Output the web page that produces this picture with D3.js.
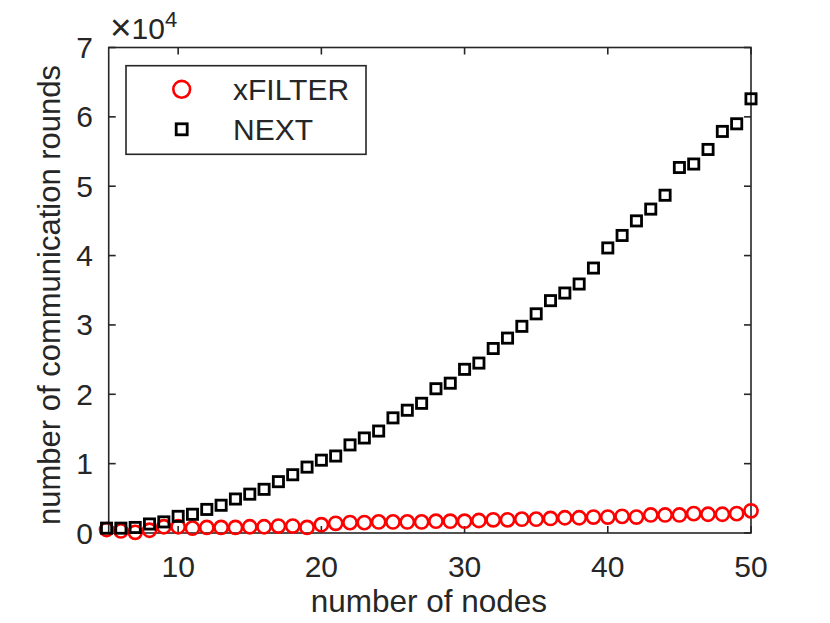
<!DOCTYPE html>
<html lang="en">

<head>
  <meta charset="utf-8">
  <title>communication rounds vs nodes</title>
  <script type="text/javascript" src="https://d3js.org/d3.v7.min.js"></script>

  <style>
    body {
      margin: 0;
      background: white;
    }

    text {
      font-family: "Liberation Sans", Arial, Helvetica, sans-serif;
      fill: #262626;
    }

    .axis-line {
      fill: none;
      stroke: #262626;
      stroke-width: 1.6;
    }

    .tick-mark {
      stroke: #262626;
      stroke-width: 1.6;
    }

    .xfilter {
      fill: none;
      stroke: #ff0000;
      stroke-width: 2.6;
    }

    .next {
      fill: none;
      stroke: #000000;
      stroke-width: 2.8;
    }
  </style>
</head>

<body>
  <script type="text/javascript">

    //Data
    var nodes = [5, 6, 7, 8, 9, 10, 11, 12, 13, 14, 15, 16, 17, 18, 19, 20, 21, 22, 23, 24, 25, 26, 27,
      28, 29, 30, 31, 32, 33, 34, 35, 36, 37, 38, 39, 40, 41, 42, 43, 44, 45, 46, 47, 48, 49, 50];

    var xfilterRounds = [500, 300, 100, 400, 900, 900, 700, 800, 800, 800, 900, 900, 1000, 1000, 800,
      1200, 1400, 1500, 1500, 1600, 1600, 1600, 1600, 1700, 1700, 1700, 1800, 1900, 1900, 2000,
      2000, 2100, 2200, 2200, 2300, 2300, 2400, 2300, 2600, 2600, 2600, 2800, 2700, 2700, 2800, 3200];

    var nextRounds = [700, 700, 800, 1300, 1600, 2400, 2700, 3400, 4000, 4900, 5600, 6300, 7400, 8400,
      9500, 10500, 11100, 12700, 13700, 14700, 16600, 17700, 18700, 20800, 21600, 23600, 24500,
      26600, 28100, 29800, 31600, 33500, 34600, 35900, 38200, 41100, 42900, 45000, 46700, 48700,
      52700, 53200, 55300, 57900, 59000, 62600];

    var xTicks = [10, 20, 30, 40, 50];
    var yTicks = [0, 10000, 20000, 30000, 40000, 50000, 60000, 70000];

    var seriesNames = ["xFILTER", "NEXT"];

    //Width and height
    var w = 830;
    var h = 623;
    var plotLeft = 108.7, plotRight = 751, plotTop = 47.5, plotBottom = 533;
    var tickLen = 7;

    var xScale = d3.scaleLinear()
      .domain([5.15, 50])
      .range([plotLeft, plotRight]);

    var yScale = d3.scaleLinear()
      .domain([0, 70000])
      .range([plotBottom, plotTop]);

    var svg = d3.select("body")
      .append("svg")
      .attr("width", w)
      .attr("height", h);

    //Axes box
    svg.append("rect")
      .attr("class", "axis-line")
      .attr("x", plotLeft)
      .attr("y", plotTop)
      .attr("width", plotRight - plotLeft)
      .attr("height", plotBottom - plotTop);

    //X ticks, inward on bottom and top
    xTicks.forEach(function (t) {
      var x = xScale(t);
      svg.append("line").attr("class", "tick-mark")
        .attr("x1", x).attr("x2", x).attr("y1", plotBottom).attr("y2", plotBottom - tickLen);
      svg.append("line").attr("class", "tick-mark")
        .attr("x1", x).attr("x2", x).attr("y1", plotTop).attr("y2", plotTop + tickLen);
      svg.append("text")
        .attr("x", x)
        .attr("y", 577)
        .attr("text-anchor", "middle")
        .attr("font-size", "30px")
        .text(t);
    });

    //Y ticks, inward on left and right
    yTicks.forEach(function (t) {
      var y = yScale(t);
      svg.append("line").attr("class", "tick-mark")
        .attr("x1", plotLeft).attr("x2", plotLeft + tickLen).attr("y1", y).attr("y2", y);
      svg.append("line").attr("class", "tick-mark")
        .attr("x1", plotRight).attr("x2", plotRight - tickLen).attr("y1", y).attr("y2", y);
      svg.append("text")
        .attr("x", 93)
        .attr("y", y + 10.5)
        .attr("text-anchor", "end")
        .attr("font-size", "30px")
        .text(t / 10000);
    });

    //Exponent label
    var expo = svg.append("text")
      .attr("x", 110)
      .attr("y", 40)
      .attr("font-size", "30px");
    expo.append("tspan")
      .attr("font-size", "37px")
      .text("\u00d7");
    expo.append("tspan").attr("dy", -1).text("10");
    expo.append("tspan")
      .attr("dy", -12)
      .attr("font-size", "22px")
      .text("4");

    //Axis labels
    svg.append("text")
      .attr("x", (plotLeft + plotRight) / 2 - 1)
      .attr("y", 612)
      .attr("text-anchor", "middle")
      .attr("font-size", "31.5px")
      .text("number of nodes");

    svg.append("text")
      .attr("transform", "translate(60,295) rotate(-90)")
      .attr("text-anchor", "middle")
      .attr("font-size", "31px")
      .text("number of communication rounds");

    //xFILTER circles first, NEXT squares on top
    svg.selectAll("circle.xfilter")
      .data(nodes)
      .enter()
      .append("circle")
      .attr("class", "xfilter")
      .attr("cx", function (d) { return xScale(d); })
      .attr("cy", function (d, i) { return yScale(xfilterRounds[i]); })
      .attr("r", 6.6);

    var sq = 10.2;
    svg.selectAll("rect.next")
      .data(nodes)
      .enter()
      .append("rect")
      .attr("class", "next")
      .attr("x", function (d) { return xScale(d) - sq / 2; })
      .attr("y", function (d, i) { return yScale(nextRounds[i]) - sq / 2; })
      .attr("width", sq)
      .attr("height", sq);

    //Legend
    var legend = svg.append("g");
    legend.append("rect")
      .attr("x", 126)
      .attr("y", 65.7)
      .attr("width", 240)
      .attr("height", 88.6)
      .attr("fill", "white")
      .attr("stroke", "#262626")
      .attr("stroke-width", 1.6);

    legend.append("circle")
      .attr("class", "xfilter")
      .attr("cx", 181.7)
      .attr("cy", 89.3)
      .attr("r", 8.4);

    legend.append("rect")
      .attr("class", "next")
      .attr("x", 181.7 - 5.5)
      .attr("y", 129.3 - 5.5)
      .attr("width", 11)
      .attr("height", 11);

    legend.selectAll("text")
      .data(seriesNames)
      .enter()
      .append("text")
      .attr("x", 233)
      .attr("y", function (d, i) { return 89.3 + 40 * i + 10.5; })
      .attr("font-size", "30px")
      .attr("fill", "#000")
      .text(function (d) { return d; });

  </script>
</body>

</html>
